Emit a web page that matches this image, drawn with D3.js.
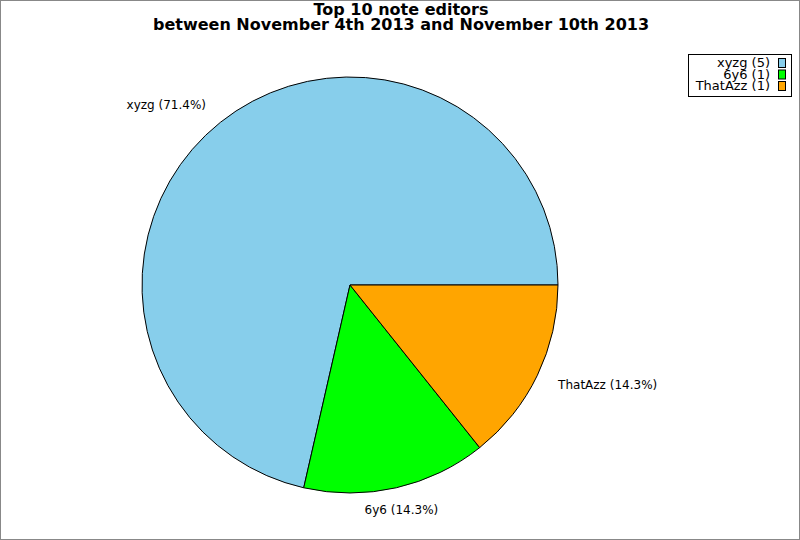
<!DOCTYPE html>
<html><head><meta charset="utf-8">
<script src="https://cdn.jsdelivr.net/npm/d3@7"></script>
<style>body{margin:0;background:#fff}svg{display:block}</style>
</head><body>
<script>
const titleLines = ["Top 10 note editors", "between November 4th 2013 and November 10th 2013"];
const categories = ["xyzg", "6y6", "ThatAzz"];
const values = [5, 1, 1];
const colors = ["#87ceeb", "#00ff00", "#ffa500"];

const W = 800, H = 540;
const svg = d3.select("body").append("svg").attr("width", W).attr("height", H);
svg.append("rect").attr("x", 0.5).attr("y", 0.5).attr("width", W - 1).attr("height", H - 1)
  .attr("fill", "#fff").attr("stroke", "#888");

const font = "DejaVu Sans, sans-serif";
svg.selectAll("text.title").data(titleLines).join("text")
  .attr("x", 401).attr("y", (d, i) => 15 + i * 15)
  .attr("text-anchor", "middle").attr("font-family", font)
  .attr("font-weight", "bold").attr("font-size", 16).text(d => d);

const cx = 350, cy = 285, r = 208;
const total = d3.sum(values);
const data = categories.map((c, i) => ({ name: c, value: values[i], color: colors[i] }));
// counter-clockwise from 3 o'clock: d3 angles clockwise from 12 o'clock
const pie = d3.pie().value(d => d.value).sort(null)
  .startAngle(Math.PI / 2).endAngle(Math.PI / 2 - 2 * Math.PI);
const arcs = pie(data);
const arc = d3.arc().innerRadius(0).outerRadius(r);
const g = svg.append("g").attr("transform", `translate(${cx},${cy})`);
g.selectAll("path").data(arcs).join("path")
  .attr("d", arc).attr("fill", d => d.data.color)
  .attr("stroke", "#000").attr("stroke-width", 1);

const fmt = d3.format(".1f");
const labelR = 231;
g.selectAll("text.lbl").data(arcs).join("text")
  .each(function (d) {
    const a = (d.startAngle + d.endAngle) / 2;
    const x = Math.sin(a) * labelR, y = -Math.cos(a) * labelR;
    const s = Math.sin(a);
    d3.select(this).attr("x", x).attr("y", y)
      .attr("text-anchor", Math.abs(s) < 0.3 ? "middle" : (s > 0 ? "start" : "end"));
  })
  .attr("dy", "0.35em")
  .attr("font-family", font).attr("font-size", 12)
  .text(d => `${d.data.name} (${fmt(d.data.value / total * 100)}%)`);

// legend
const lg = svg.append("g");
lg.append("rect").attr("x", 688.5).attr("y", 54.5).attr("width", 103).attr("height", 42)
  .attr("fill", "#fff").attr("stroke", "#000");
const rows = lg.selectAll("g.row").data(data).join("g")
  .attr("transform", (d, i) => `translate(0,${58 + i * 11.5})`);
rows.append("rect").attr("x", 778.5).attr("y", 0.5).attr("width", 7).attr("height", 9)
  .attr("fill", d => d.color).attr("stroke", "#000");
rows.append("text").attr("x", 770).attr("y", 9).attr("text-anchor", "end")
  .attr("font-family", font).attr("font-size", 13)
  .text(d => `${d.name} (${d.value})`);
</script>
</body></html>
